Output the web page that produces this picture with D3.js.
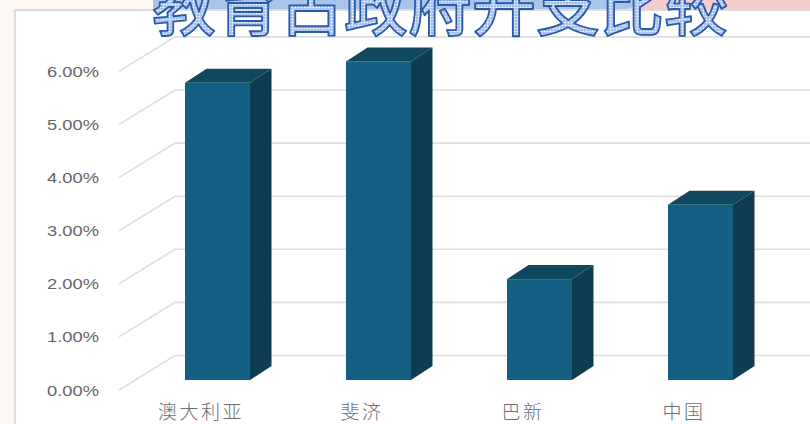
<!DOCTYPE html>
<html>
<head>
<meta charset="utf-8">
<script src="https://cdn.jsdelivr.net/npm/d3@7"></script>
<style>
html,body{margin:0;padding:0;background:#fdf8f3;overflow:hidden}
svg{display:block}
</style>
</head>
<body>
<svg id="chart" width="810" height="424"></svg>
<script>
// Education share of government spending, by country
const categories = ["澳大利亚", "斐济", "巴新", "中国"];
const shares = [5.6, 6.0, 1.9, 3.3];
const tickValues = [0, 1, 2, 3, 4, 5, 6];
const titleText = "教育占政府开支比较";

const svg = d3.select("#chart");
const defs = svg.append("defs");

// Stippled interior of the title glyphs
const stipple = defs.append("pattern")
  .attr("id", "stipple").attr("patternUnits", "userSpaceOnUse")
  .attr("width", 3).attr("height", 3);
stipple.append("rect").attr("width", 3).attr("height", 3).attr("fill", "#a9c4ec");
stipple.append("circle").attr("cx", 1.5).attr("cy", 1.5).attr("r", 0.8).attr("fill", "#ffffff");

// Page background, header strips and chart panel
svg.append("rect").attr("width", 810).attr("height", 424).attr("fill", "#fdf8f3");
svg.append("rect").attr("x", 153).attr("y", 0).attr("width", 480).attr("height", 10).attr("fill", "#a9c3e9");
svg.append("path").attr("d", "M627,10L641,0L810,0L810,10Z").attr("fill", "#f5cccc");
svg.append("rect").attr("x", 15).attr("y", 10).attr("width", 800).attr("height", 420)
  .attr("fill", "#ffffff").attr("stroke", "#dcdcdc").attr("stroke-width", 2);

// Scales: values share one vertical scale, the floor depth shifts it per plane
const y = d3.scaleLinear().domain([0, 6]).range([0, -318.6]);
const x = d3.scaleBand().domain(categories).range([137, 781])
  .paddingInner(96 / 161).paddingOuter(48 / 161);

const tickY = 390, backY = 355.5, frontY = 380;
const wallLeft = 119, wallBack = 175;
const depthX = 21.5, depthY = 14;
const labelShift = -16.5;

// Gridlines run along the side wall, then across the back wall
const grid = svg.append("g").attr("fill", "none").attr("stroke", "#dedede").attr("stroke-width", 1.6);
grid.selectAll("path").data(tickValues).join("path")
  .attr("d", v => d3.line()([
    [wallLeft, tickY + y(v)],
    [wallBack, backY + y(v)],
    [810, backY + y(v)]
  ]));

// Value axis labels
svg.append("g").selectAll("text").data(tickValues).join("text")
  .attr("x", 47).attr("y", v => tickY + y(v) + 1.5)
  .attr("dominant-baseline", "middle")
  .attr("font-family", "Liberation Sans, Arial, sans-serif").attr("font-size", 15.5)
  .attr("textLength", 52).attr("lengthAdjust", "spacingAndGlyphs")
  .attr("fill", "#666666")
  .text(v => d3.format(".2f")(v) + "%");

// Extruded columns: side, top, then front face
const bars = svg.append("g").selectAll("g").data(categories).join("g");
const bw = x.bandwidth();
const barTop = (d, i) => frontY + y(shares[i]);

bars.append("path").attr("fill", "#0e3c50")
  .attr("d", (d, i) => {
    const r = x(d) + bw;
    return d3.line()([[r, frontY], [r + depthX, frontY - depthY], [r + depthX, barTop(d, i) - depthY], [r, barTop(d, i)]]) + "Z";
  });
bars.append("path").attr("fill", "#114860")
  .attr("d", (d, i) => {
    const l = x(d), t = barTop(d, i);
    return d3.line()([[l, t], [l + depthX, t - depthY], [l + bw + depthX, t - depthY], [l + bw, t]]) + "Z";
  });
bars.append("rect").attr("fill", "#156082")
  .attr("x", d => x(d)).attr("width", bw)
  .attr("y", barTop).attr("height", (d, i) => frontY - barTop(d, i));

// Category labels sit under the floor, left of the columns' centres
svg.append("g").selectAll("text").data(categories).join("text")
  .attr("x", d => x(d) + bw / 2 + labelShift).attr("y", 419)
  .attr("text-anchor", "middle")
  .attr("font-family", "Noto Sans CJK SC, sans-serif").attr("font-size", 19)
  .attr("font-weight", 300).attr("letter-spacing", 2.5)
  .attr("fill", "#6e6e6e")
  .text(d => d);

// Outlined title overlapping the top of the panel
svg.append("text")
  .attr("x", 440).attr("y", 30)
  .attr("text-anchor", "middle")
  .attr("font-family", "Noto Sans CJK SC, sans-serif")
  .attr("font-size", 64).attr("font-weight", 500)
  .attr("fill", "url(#stipple)").attr("stroke", "#2a5aa9").attr("stroke-width", 1.8)
  .attr("stroke-linejoin", "round")
  .text(titleText);
</script>
</body>
</html>
